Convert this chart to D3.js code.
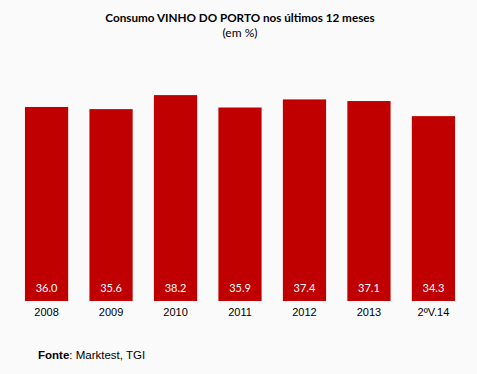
<!DOCTYPE html>
<html><head><meta charset="utf-8">
<script src="https://cdn.jsdelivr.net/npm/d3@7"></script>
<style>body{margin:0;background:#fafafa}svg{display:block}</style>
</head><body>
<script>
const categories = ["2008","2009","2010","2011","2012","2013","2ºV.14"];
const values = [36.0,35.6,38.2,35.9,37.4,37.1,34.3];
const title = "Consumo VINHO DO PORTO nos últimos 12 meses";
const subtitle = "(em %)";
const source = ["Fonte", ": Marktest, TGI"];

const W=477,H=374;
const svg=d3.select("body").append("svg").attr("width",W).attr("height",H);
svg.append("rect").attr("width",W).attr("height",H).attr("fill","#fafafa");
const x=d3.scaleBand().domain(categories).range([14,466]).paddingInner(0.33).paddingOuter(0.17);
const y=d3.scaleLinear().domain([0,40]).range([301,85.4]);
svg.selectAll("rect.bar").data(values).enter().append("rect").attr("class","bar")
 .attr("x",(d,i)=>x(categories[i])).attr("width",x.bandwidth())
 .attr("y",d=>y(d)).attr("height",d=>y(0)-y(d)).attr("fill","#c00000");
svg.selectAll("text.val").data(values).enter().append("text").attr("class","val")
 .attr("x",(d,i)=>x(categories[i])+x.bandwidth()/2).attr("y",292)
 .attr("text-anchor","middle").attr("fill","#fff").attr("font-family","Lato, sans-serif").attr("font-size",11)
 .text(d=>d.toFixed(1));
const ax=d3.axisBottom(x).tickSize(0).tickPadding(0);
const g=svg.append("g").attr("transform","translate(0,308)").call(ax);
g.select(".domain").remove();
g.selectAll("text").attr("font-family","Liberation Sans, Arial, sans-serif").attr("font-size",11).attr("fill","#000");
svg.append("text").attr("x",240).attr("y",22).attr("text-anchor","middle").attr("font-family","Lato, sans-serif").attr("font-weight","bold").attr("font-size",11.7).attr("fill","#000").text(title);
svg.append("text").attr("x",240).attr("y",37).attr("text-anchor","middle").attr("font-family","Lato, sans-serif").attr("font-size",12).attr("fill","#000").text(subtitle);
const s=svg.append("text").attr("x",38).attr("y",359).attr("font-family","Liberation Sans, Arial, sans-serif").attr("font-size",11.5).attr("fill","#000");
s.append("tspan").attr("font-weight","bold").text(source[0]);
s.append("tspan").text(source[1]);
</script>
</body></html>
